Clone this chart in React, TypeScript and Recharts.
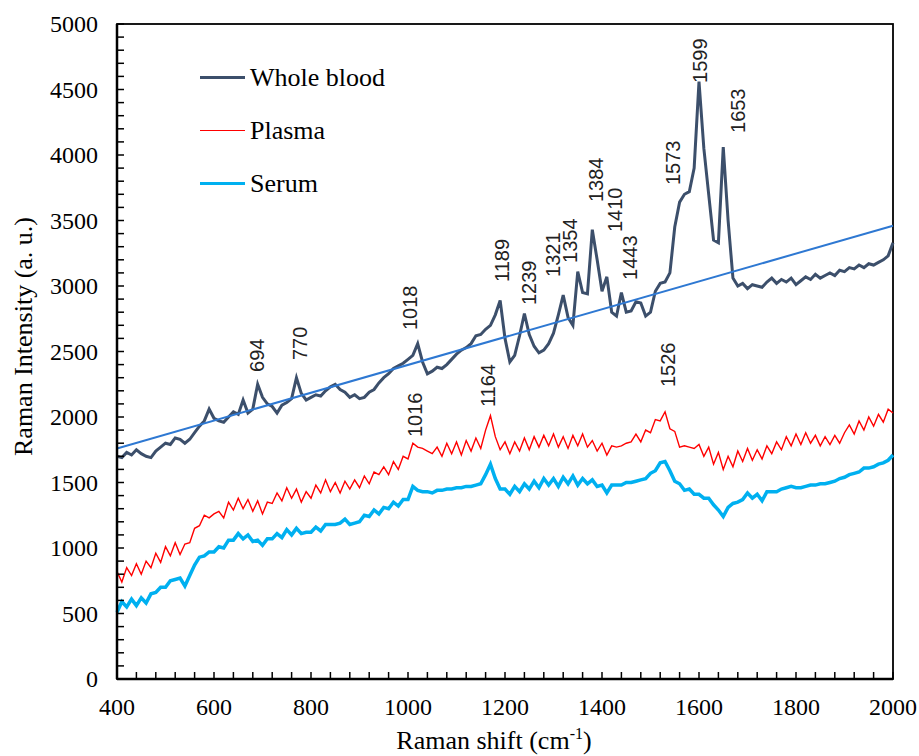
import React from "react";
import * as Recharts from "recharts";
import { ComposedChart, Line, Scatter, XAxis, YAxis, Legend, Label } from "recharts";

// spectra sampled every 10 cm-1 from 400 to 2000
const START_SHIFT = 400;
const SHIFT_STEP = 10;

const wholeBlood = [
  1700, 1690, 1730, 1710, 1750, 1720, 1700, 1690, 1740, 1770,
  1800, 1790, 1840, 1830, 1800, 1830, 1880, 1930, 1970, 2060,
  1990, 1970, 1960, 2000, 2040, 2020, 2130, 2030, 2060, 2250,
  2150, 2100, 2080, 2030, 2090, 2110, 2140, 2300, 2180, 2130,
  2150, 2170, 2160, 2200, 2230, 2250, 2210, 2190, 2150, 2170,
  2140, 2150, 2190, 2210, 2260, 2300, 2330, 2370, 2390, 2410,
  2440, 2470, 2560, 2420, 2330, 2350, 2380, 2370, 2400, 2440,
  2480, 2510, 2530, 2560, 2620, 2630, 2670, 2700, 2780, 2890,
  2600, 2420, 2470, 2620, 2790, 2630, 2540, 2490, 2510, 2560,
  2640, 2780, 2930, 2760, 2700, 3110, 2950, 2940, 3430, 3200,
  2960, 3070, 2800, 2770, 2950, 2800, 2810, 2880, 2870, 2770,
  2800, 2960, 3020, 3030, 3100, 3450, 3640, 3700, 3720, 3900,
  4560, 4050, 3700, 3350, 3330, 4060, 3500, 3060, 3000, 3020,
  2980, 3010, 3000, 2990, 3030, 3060, 3020, 3050, 3030, 3060,
  3010, 3040, 3070, 3050, 3090, 3060, 3080, 3100, 3080, 3120,
  3110, 3140, 3130, 3160, 3140, 3170, 3160, 3180, 3200, 3230,
  3330,
];

const plasma = [
  820, 740, 850, 790, 880, 800, 900, 850, 960, 890,
  1010, 940, 1040, 950, 1030, 1040, 1150, 1170, 1250, 1230,
  1260, 1280, 1230, 1350, 1290, 1380, 1300, 1370, 1280, 1360,
  1260, 1350, 1340, 1420, 1360, 1460, 1380, 1450, 1350, 1430,
  1380, 1480, 1420, 1520, 1430, 1500, 1420, 1510, 1450, 1520,
  1460, 1550, 1490, 1580, 1560, 1620, 1560, 1660, 1600, 1700,
  1680, 1800, 1770, 1760, 1740, 1720, 1770, 1700, 1800, 1720,
  1810, 1710, 1820, 1740, 1840, 1760, 1900, 2010, 1850, 1750,
  1810, 1720, 1810, 1740, 1840, 1750, 1850, 1770, 1860, 1780,
  1870, 1770, 1850, 1760, 1860, 1780, 1870, 1770, 1820, 1740,
  1800, 1710, 1780, 1770, 1780, 1800, 1810, 1870, 1810, 1900,
  1880, 1980, 1970, 2040, 1910, 1890, 1770, 1780, 1770, 1760,
  1790, 1700, 1770, 1640, 1730, 1600, 1700, 1620, 1740, 1660,
  1760, 1670, 1750, 1680, 1780, 1720, 1810, 1750, 1850, 1780,
  1870, 1790, 1880, 1800, 1860, 1780, 1850, 1790, 1860, 1800,
  1880, 1940, 1870, 1970, 1900, 2000, 1930, 2020, 1960, 2060,
  2030,
];

const serum = [
  510, 590, 550, 610, 560, 620, 580, 650, 660, 700,
  700, 750, 760, 770, 710, 790, 870, 930, 940, 970,
  970, 1010, 1000, 1060, 1060, 1110, 1070, 1100, 1050, 1060,
  1020, 1070, 1070, 1110, 1080, 1140, 1100, 1150, 1110, 1120,
  1120, 1160, 1130, 1180, 1180, 1180, 1190, 1220, 1180, 1190,
  1200, 1250, 1240, 1290, 1260, 1310, 1300, 1350, 1320, 1370,
  1370, 1470, 1440, 1430, 1430, 1420, 1440, 1440, 1450, 1450,
  1460, 1460, 1470, 1470, 1480, 1490, 1560, 1640, 1530, 1450,
  1450, 1410, 1470, 1430, 1490, 1450, 1510, 1460, 1530, 1480,
  1530, 1470, 1540, 1490, 1550, 1480, 1530, 1490, 1520, 1470,
  1480, 1420, 1480, 1480, 1480, 1500, 1500, 1510, 1520, 1530,
  1570, 1590, 1650, 1660, 1590, 1510, 1490, 1440, 1450, 1410,
  1410, 1380, 1380, 1330, 1290, 1240, 1310, 1340, 1350, 1370,
  1420, 1380, 1410, 1360, 1430, 1430, 1430, 1450, 1460, 1470,
  1460, 1460, 1470, 1480, 1480, 1490, 1490, 1500, 1510, 1530,
  1540, 1560, 1570, 1580, 1610, 1610, 1620, 1640, 1650, 1670,
  1710,
];

const shift = wholeBlood.map((_, i) => START_SHIFT + i * SHIFT_STEP);

// linear baseline drawn over the whole blood spectrum
const trendShift = [400, 2000];
const trendValue = [1760, 3460];

// peak labels (text, where the label sits)
const peakText = ["694", "770", "1018", "1189", "1239", "1321", "1354", "1384", "1410", "1443", "1573", "1599", "1653", "1016", "1164", "1526"];
const peakShift = [689, 777, 1004, 1194, 1249, 1299, 1334, 1388, 1427, 1458, 1546, 1602, 1680, 1014, 1165, 1536];
const peakLevel = [2344, 2435, 2664, 3031, 2855, 3069, 3176, 3641, 3412, 3046, 3771, 4550, 4168, 1847, 2076, 2229];

const X_MIN = 400;
const X_MAX = 2000;
const Y_MAX = 5000;
const xTicks = [400, 440, 480, 520, 560, 600, 640, 680, 720, 760, 800, 840, 880, 920, 960, 1000, 1040, 1080, 1120, 1160, 1200, 1240, 1280, 1320, 1360, 1400, 1440, 1480, 1520, 1560, 1600, 1640, 1680, 1720, 1760, 1800, 1840, 1880, 1920, 1960, 2000];
const yTicks = [0, 100, 200, 300, 400, 500, 600, 700, 800, 900, 1000, 1100, 1200, 1300, 1400, 1500, 1600, 1700, 1800, 1900, 2000, 2100, 2200, 2300, 2400, 2500, 2600, 2700, 2800, 2900, 3000, 3100, 3200, 3300, 3400, 3500, 3600, 3700, 3800, 3900, 4000, 4100, 4200, 4300, 4400, 4500, 4600, 4700, 4800, 4900, 5000];

const BLOOD = "#3C4F6B";
const PLASMA = "#FF0000";
const SERUM = "#00B0F0";
const TREND = "#2E78D2";
const SERIF = "'Liberation Serif', 'Times New Roman', serif";
const SANS = "'Liberation Sans', Arial, sans-serif";

const CHART_W = 919;
const CHART_H = 756;
const MARGIN = { top: 24, right: 26, bottom: 0, left: 0 };
const X_AXIS_H = 77;
const Y_AXIS_W = 117;

const spectra = shift.map((s, i) => ({
  shift: s,
  blood: wholeBlood[i],
  plasma: plasma[i],
  serum: serum[i],
}));
const trend = trendShift.map((s, i) => ({ shift: s, trend: trendValue[i] }));
const peaks = peakText.map((t, i) => ({ shift: peakShift[i], level: peakLevel[i], text: t }));

const legendItems = [
  { name: "Whole blood", color: BLOOD, thick: 3 },
  { name: "Plasma", color: PLASMA, thick: 1.5 },
  { name: "Serum", color: SERUM, thick: 3 },
];

const TICK_MARGIN = 10;

const XTick = (props: any) => {
  const { x, y, payload } = props;
  const bottom = y - TICK_MARGIN;
  const major = payload.value % 200 === 0;
  return (
    <g>
      <path d={`M${x},${bottom}V${bottom - 7}`} stroke="#000" strokeWidth={1.5} fill="none" />
      {major && (
        <text x={x} y={bottom + 36} textAnchor="middle" fontFamily={SERIF} fontSize={24} fill="#000">
          {payload.value}
        </text>
      )}
    </g>
  );
};

const YTick = (props: any) => {
  const { x, y, payload } = props;
  const left = x + TICK_MARGIN;
  const major = payload.value % 500 === 0;
  return (
    <g>
      <path d={`M${left},${y}H${left + 7}`} stroke="#000" strokeWidth={1.5} fill="none" />
      {major && (
        <text x={left - 19} y={y + 8} textAnchor="end" fontFamily={SERIF} fontSize={24} fill="#000">
          {payload.value}
        </text>
      )}
    </g>
  );
};

const PeakLabel = (props: any) => {
  const { cx, cy, payload } = props;
  return (
    <text
      x={cx}
      y={cy}
      transform={`rotate(-90 ${cx} ${cy})`}
      textAnchor="start"
      dominantBaseline="central"
      fontFamily={SANS}
      fontSize={20}
      fill="#222"
    >
      {payload.text}
    </text>
  );
};

// box around the plot area
const usePlotBox: any = (Recharts as any).usePlotArea || (() => null);

const PlotFrame = () => {
  const area = usePlotBox();
  if (!area) return null;
  return (
    <rect
      x={area.x}
      y={area.y}
      width={area.width}
      height={area.height}
      fill="none"
      stroke="#000"
      strokeWidth={1.8}
    />
  );
};

const renderLegend = () => (
  <div style={{ fontFamily: SERIF, fontSize: 26, color: "#000" }}>
    {legendItems.map((item) => (
      <div key={item.name} style={{ display: "flex", alignItems: "center", height: 53 }}>
        <div style={{ width: 45, height: item.thick, background: item.color, marginRight: 5 }} />
        <span>{item.name}</span>
      </div>
    ))}
  </div>
);

export default function App() {
  return (
    <div style={{ position: "absolute", left: 0, top: 0, width: CHART_W, height: CHART_H, overflow: "hidden" }}>
      <ComposedChart width={CHART_W} height={CHART_H} data={spectra} margin={MARGIN}>
        <XAxis
          dataKey="shift"
          type="number"
          domain={[X_MIN, X_MAX]}
          ticks={xTicks}
          interval={0}
          tick={<XTick />}
          tickLine={false}
          tickSize={0}
          tickMargin={TICK_MARGIN}
          axisLine={{ stroke: "#000", strokeWidth: 2.5 }}
          height={X_AXIS_H}
        >
          <Label
            content={({ viewBox }: any) => (
              <text
                x={viewBox.x + viewBox.width / 2 - 11}
                y={viewBox.y + 70}
                textAnchor="middle"
                fontFamily={SERIF}
                fontSize={26}
                fill="#000"
              >
                Raman shift (cm
                <tspan dy={-10} fontSize={16}>-1</tspan>
                <tspan dy={10}>)</tspan>
              </text>
            )}
          />
        </XAxis>
        <YAxis
          type="number"
          domain={[0, Y_MAX]}
          ticks={yTicks}
          interval={0}
          tick={<YTick />}
          tickLine={false}
          tickSize={0}
          tickMargin={TICK_MARGIN}
          axisLine={{ stroke: "#000", strokeWidth: 2.5 }}
          width={Y_AXIS_W}
        >
          <Label
            content={({ viewBox }: any) => {
              const cx = viewBox.x + 23;
              const cy = viewBox.y + viewBox.height / 2 - 15;
              return (
                <text
                  x={cx}
                  y={cy}
                  transform={`rotate(-90 ${cx} ${cy})`}
                  textAnchor="middle"
                  dominantBaseline="central"
                  fontFamily={SERIF}
                  fontSize={26}
                  fill="#000"
                >
                  Raman Intensity (a. u.)
                </text>
              );
            }}
          />
        </YAxis>
        <PlotFrame />
        <Legend
          layout="vertical"
          align="center"
          verticalAlign="middle"
          content={renderLegend}
          wrapperStyle={{ position: "absolute", left: 200, top: 51, width: "auto", height: "auto" }}
        />
        <Line
          dataKey="plasma"
          stroke={PLASMA}
          strokeWidth={1.4}
          dot={false}
          activeDot={false}
          isAnimationActive={false}
        />
        <Line
          dataKey="serum"
          stroke={SERUM}
          strokeWidth={3.5}
          dot={false}
          activeDot={false}
          isAnimationActive={false}
        />
        <Line
          dataKey="blood"
          stroke={BLOOD}
          strokeWidth={3}
          dot={false}
          activeDot={false}
          isAnimationActive={false}
        />
        <Line
          data={trend}
          dataKey="trend"
          stroke={TREND}
          strokeWidth={2}
          dot={false}
          activeDot={false}
          isAnimationActive={false}
          legendType="none"
        />
        <Scatter
          data={peaks}
          dataKey="level"
          shape={<PeakLabel />}
          isAnimationActive={false}
          legendType="none"
        />
      </ComposedChart>
    </div>
  );
}
